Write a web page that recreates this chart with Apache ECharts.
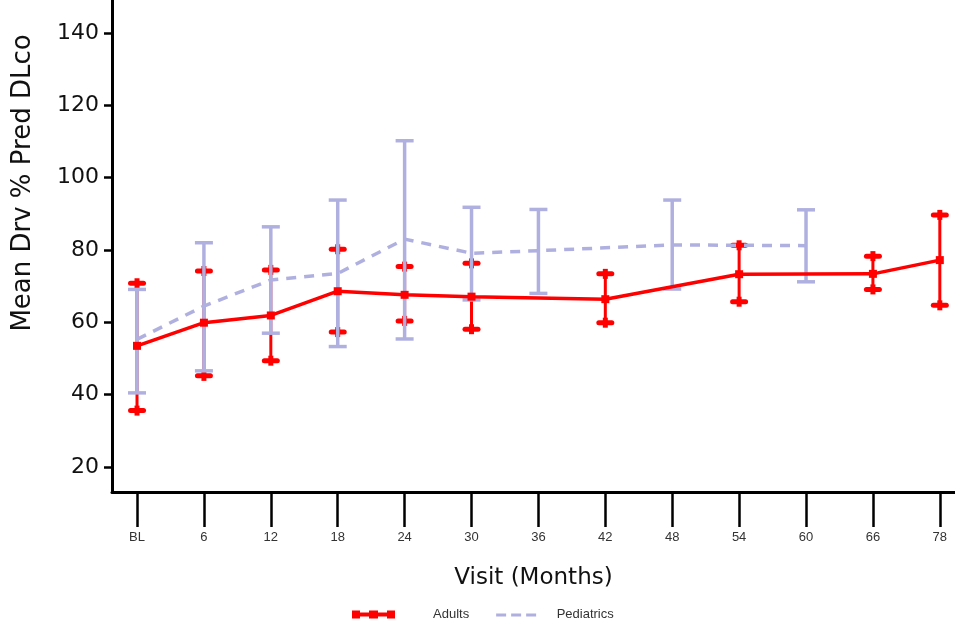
<!DOCTYPE html>
<html><head><meta charset="utf-8">
<script src="https://cdn.jsdelivr.net/npm/echarts@6/dist/echarts.min.js"></script>
<style>html,body{margin:0;padding:0;background:#fff}#c{width:955px;height:620px}</style>
</head><body><div id="c"></div>
<script>
const categories = ['BL','6','12','18','24','30','36','42','48','54','60','66','78'];
const adultMean = [53.5, 59.9, 61.9, 68.6, 67.6, 67.1, null, 66.4, null, 73.3, null, 73.4, 77.2];
const adultLow  = [35.6, 45.2, 49.4, 57.3, 60.4, 58.1, null, 59.9, null, 65.7, null, 69.1, 64.7];
const adultHigh = [70.8, 74.2, 74.5, 80.2, 75.4, 76.3, null, 73.4, null, 81.3, null, 78.3, 89.7];
const pedMean = [55.3, 64.5, 71.7, 73.5, 83.0, 79.1, 79.8, null, 81.4, null, 81.2, null, null];
const pedLow  = [40.5, 46.6, 57.0, 53.3, 55.4, 66.2, 68.0, null, 69.2, null, 71.2, null, null];
const pedHigh = [69.1, 82.0, 86.4, 93.8, 110.2, 91.8, 91.2, null, 93.8, null, 91.1, null, null];
const yTicks = [20, 40, 60, 80, 100, 120, 140];

const RED = '#ff0000';
const LAV = '#b0b0e0';
const xIdx = categories.map((_, i) => i);
function pts(arr) { return arr.map((v, i) => v == null ? null : [i, v]).filter(Boolean); }
function errs(lo, hi) { return lo.map((v, i) => v == null ? null : [i, v, hi[i]]).filter(Boolean); }

function adultErr(params, api) {
  const x = api.value(0), lo = api.value(1), hi = api.value(2);
  const top = api.coord([x, hi]), bot = api.coord([x, lo]);
  const cap = p => [
    {type: 'line', shape: {x1: p[0] - 6.5, y1: p[1], x2: p[0] + 6.5, y2: p[1]}, style: {stroke: RED, lineWidth: 5, lineCap: 'round'}},
    {type: 'line', shape: {x1: p[0], y1: p[1] - 5, x2: p[0], y2: p[1] + 5}, style: {stroke: RED, lineWidth: 5}}
  ];
  return {type: 'group', children: [
    {type: 'line', shape: {x1: top[0], y1: top[1], x2: bot[0], y2: bot[1]}, style: {stroke: RED, lineWidth: 3}},
    ...cap(top), ...cap(bot)
  ]};
}
function pedErr(params, api) {
  const x = api.value(0), lo = api.value(1), hi = api.value(2);
  const top = api.coord([x, hi]), bot = api.coord([x, lo]);
  const cap = p => ({type: 'line', shape: {x1: p[0] - 9, y1: p[1], x2: p[0] + 9, y2: p[1]}, style: {stroke: LAV, lineWidth: 3.5}});
  return {type: 'group', children: [
    {type: 'line', shape: {x1: top[0], y1: top[1], x2: bot[0], y2: bot[1]}, style: {stroke: LAV, lineWidth: 3.5}},
    cap(top), cap(bot)
  ]};
}

const chart = echarts.init(document.getElementById('c'));
chart.setOption({
  animation: false,
  backgroundColor: '#fff',
  grid: {left: 112, right: 0, top: 0, bottom: 128},
  xAxis: {
    type: 'value', min: -0.374, max: 12.227,
    axisLine: {show: true, onZero: false, lineStyle: {color: '#000', width: 3}},
    axisTick: {show: true, length: 35, lineStyle: {color: '#000', width: 2.5}, customValues: xIdx},
    axisLabel: {customValues: xIdx, formatter: v => categories[Math.round(v)], margin: 39,
      fontFamily: '"Liberation Sans Narrow", "Liberation Sans", sans-serif', fontSize: 13, color: '#333'},
    splitLine: {show: false},
    name: 'Visit (Months)', nameLocation: 'middle', nameGap: 75,
    nameTextStyle: {fontFamily: '"DejaVu Sans", sans-serif', fontSize: 23, color: '#111'}
  },
  yAxis: {
    type: 'value', min: 13.1, max: 149.1,
    axisLine: {show: true, onZero: false, lineStyle: {color: '#000', width: 3}},
    axisTick: {show: true, length: 8, lineStyle: {color: '#000', width: 2.5}, customValues: yTicks},
    axisLabel: {customValues: yTicks, fontFamily: '"DejaVu Sans", sans-serif', fontSize: 22, color: '#111', margin: 13},
    splitLine: {show: false}
  },
  legend: {
    left: 352, top: 608, padding: 0, itemGap: 27, itemWidth: 43, itemHeight: 8,
    textStyle: {fontFamily: '"Liberation Sans", sans-serif', fontSize: 13, color: '#333'},
    data: [
      {name: 'Adults', icon: 'path://M0,2h43v4h-43z M0,0h8v8h-8z M17,0h9v8h-9z M35,0h8v8h-8z',
        textStyle: {padding: [0, 0, 0, 33]}},
      {name: 'Pediatrics', icon: 'path://M0,3h10v3h-10z M15,3h10v3h-10z M30,3h10v3h-10z M0,0h0.01v8h-0.01z',
        textStyle: {padding: [0, 0, 0, 14]}}
    ]
  },
  graphic: [{
    type: 'text', x: 23, y: 183, rotation: Math.PI / 2,
    style: {text: 'Mean Drv % Pred DLco', fontFamily: '"DejaVu Sans", sans-serif', fontSize: 26, fill: '#111',
      textAlign: 'center', textVerticalAlign: 'middle'}
  }],
  series: [
    {name: 'Adults', type: 'line', data: pts(adultMean), z: 6,
      symbol: 'rect', symbolSize: 8, itemStyle: {color: RED},
      lineStyle: {color: RED, width: 3.5}},
    {name: 'Pediatrics', type: 'line', data: pts(pedMean), z: 4,
      symbol: 'none', itemStyle: {color: LAV},
      lineStyle: {color: LAV, width: 3.5, type: [10, 8]}},
    {name: 'AdultsErr', type: 'custom', renderItem: adultErr, data: errs(adultLow, adultHigh), z: 3,
      encode: {x: 0, y: [1, 2]}},
    {name: 'PedErr', type: 'custom', renderItem: pedErr, data: errs(pedLow, pedHigh), z: 4,
      encode: {x: 0, y: [1, 2]}}
  ]
});
</script></body></html>
